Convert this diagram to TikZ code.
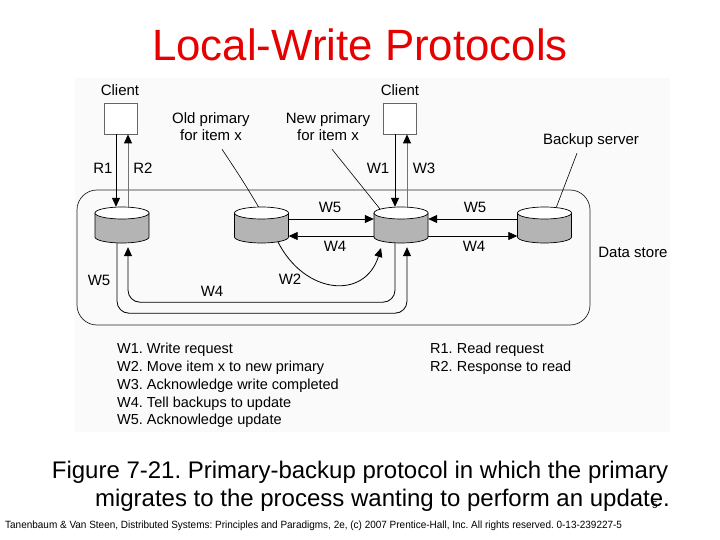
\documentclass[tikz,border=0pt]{standalone}
\usepackage{fontspec}
\setmainfont{Liberation Sans}
\frenchspacing
\usetikzlibrary{arrows.meta,calc}
\definecolor{cylgray}{RGB}{180,180,180}
\definecolor{figbg}{RGB}{250,250,250}
\definecolor{titlered}{RGB}{230,0,0}
\begin{document}
\begin{tikzpicture}[x=1pt,y=-1pt,
  lbl/.style={font=\fontsize{15}{17}\selectfont, inner sep=0pt},
  legend/.style={font=\fontsize{14.5}{17.8}\selectfont, inner sep=0pt, align=left, anchor=north west},
  arr/.style={line width=0.8pt, -{Triangle[length=9pt,width=8pt,color=black]}},
  garr/.style={arr, draw=black!55},
  leader/.style={line width=0.6pt},
  clientbox/.style={draw=black!60, fill=white, minimum width=33pt, minimum height=31pt, inner sep=0pt, line width=0.8pt},
  cylnode/.style={minimum width=54pt, minimum height=36pt, inner sep=0pt},
  pics/cyl/.style={code={
    \fill[cylgray] (-27,-12) -- (-27,12) arc[start angle=180,end angle=0,x radius=27,y radius=6] -- (27,-12) -- cycle;
    \draw[line width=0.7pt] (-27,-12) -- (-27,12) arc[start angle=180,end angle=0,x radius=27,y radius=6] -- (27,-12);
    \draw[line width=0.7pt, fill=white] (0,-12) ellipse[x radius=27,y radius=6];
  }}]
\useasboundingbox (0,0) rectangle (720,540);
\fill[white] (0,0) rectangle (720,540);
\fill[figbg] (75,78) rectangle (670,432);

% title
\node[font=\fontsize{43.8}{48}\selectfont, text=titlered, inner sep=0pt] (title) at (360,45) {Local-Write Protocols};

% data store
\node[draw=black!85, line width=0.7pt, rounded corners=20pt, minimum width=513pt, minimum height=135pt, inner sep=0pt] (ds) at (333.5,257.5) {};
\node[lbl] (dslbl) at (633,252) {Data store};

% clients
\node[lbl] (cl1lbl) at (120,90) {Client};
\node[lbl] (cl2lbl) at (400,90) {Client};
\node[clientbox] (cl1) at (120.5,118.5) {};
\node[clientbox] (cl2) at (400,118.5) {};

% labels with leaders
\node[lbl, align=center] (oldlbl) at (211,127) {Old primary\\for item x};
\node[lbl, align=center] (newlbl) at (328,127) {New primary\\for item x};
\node[lbl] (buplbl) at (591,141) {Backup server};

% cylinders
\node[cylnode] (c1) at (122,225) {};
\node[cylnode] (c2) at (261.5,225) {};
\node[cylnode] (c3) at (401,225) {};
\node[cylnode] (c4) at (544.5,225) {};

\draw[leader] ($(oldlbl.south)+(11,8)$) .. controls (243,181) .. ($(c2.north)+(-3,0)$);
\draw[leader] ($(newlbl.south)+(4,8)$) -- ($(c3.center)+(-21,-16)$);
\draw[leader] ($(buplbl.south)+(-14,5)$) -- ($(c4.north)+(12,0)$);

\pic at (c1) {cyl};
\pic at (c2) {cyl};
\pic at (c3) {cyl};
\pic at (c4) {cyl};

% client arrows
\draw[arr] ($(cl1.south)+(-4.5,0)$) -- ($(c1.north)+(-6,0)$);
\draw[garr] ($(c1.north)+(6,0)$) -- ($(cl1.south)+(7.5,0)$);
\draw[arr] ($(cl2.south)+(-5,0)$) -- ($(c3.north)+(-6,0)$);
\draw[garr] ($(c3.north)+(6,0)$) -- ($(cl2.south)+(7,0)$);
\node[lbl] (r1) at (103,168) {R1};
\node[lbl] (r2) at (143,168) {R2};
\node[lbl] (w1) at (378,168) {W1};
\node[lbl] (w3) at (424,168) {W3};

% middle arrows
\draw[arr] ($(c2.east)+(0,-6)$) -- ($(c3.west)+(0,-6)$);
\draw[arr] ($(c3.west)+(0,11)$) -- ($(c2.east)+(0,11)$);
\draw[arr] ($(c4.west)+(0,-6)$) -- ($(c3.east)+(0,-6)$);
\draw[arr] ($(c3.east)+(0,11)$) -- ($(c4.west)+(0,11)$);
\node[lbl] (w5a) at (330,207) {W5};
\node[lbl] (w4a) at (335,246) {W4};
\node[lbl] (w5b) at (475,207) {W5};
\node[lbl] (w4b) at (474,246) {W4};

% W2 curve
\draw[arr] ($(c2.center)+(16.5,17)$) .. controls (305,295) and (365,300) .. ($(c3.center)+(-20,23)$);
\node[lbl] (w2) at (290,279) {W2};

% bottom loops
\draw[arr, rounded corners=12pt] ($(c3.south)+(-6,0)$) -- ++(0,59) -| ($(c1.south)+(6,4)$);
\draw[arr, rounded corners=12pt] ($(c1.south)+(-5,0)$) -- ++(0,70) -| ($(c3.south)+(6,4)$);
\node[lbl] (w4c) at (212,291) {W4};
\node[lbl] (w5c) at (99,280) {W5};

% legend
\node[legend] (legl) at (117,343) {W1. Write request\\W2. Move item x to new primary\\W3. Acknowledge write completed\\W4. Tell backups to update\\W5. Acknowledge update};
\node[legend] (legr) at (430,343) {R1. Read request\\R2. Response to read};

% caption
\node[font=\fontsize{24}{28}\selectfont, inner sep=0pt] (cap1) at (360,472) {Figure 7-21. Primary-backup protocol in which the primary};
\node[font=\fontsize{24}{28}\selectfont, inner sep=0pt] (cap2) at (382.5,500) {migrates to the process wanting to perform an update.};
\node[font=\fontsize{10}{10}\selectfont, inner sep=0pt] (pnum) at (655,505) {5};
\node[font=\fontsize{10.5}{11}\selectfont, inner sep=0pt, anchor=west] (foot) at (5,526) {\scalebox{0.95}[1]{Tanenbaum \& Van Steen, Distributed Systems: Principles and Paradigms, 2e, (c) 2007 Prentice-Hall, Inc. All rights reserved. 0-13-239227-5}};
\end{tikzpicture}
\end{document}
